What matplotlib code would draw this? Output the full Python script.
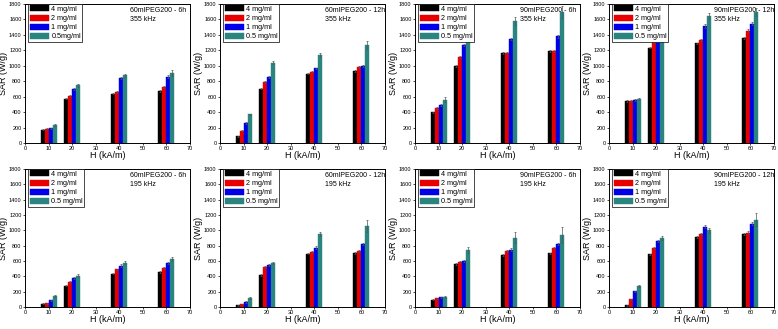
import numpy as np
import matplotlib
matplotlib.use("Agg")
import matplotlib.pyplot as plt

plt.rcParams["font.family"] = ["Liberation Sans", "DejaVu Sans"]

# Field strengths and concentrations
H = [10, 20, 40, 60]
concs = ["4 mg/ml", "2 mg/ml", "1 mg/ml", "0.5 mg/ml"]
colors = ["#000000", "#e80000", "#0000e8", "#2a8580"]

titles = [
    ("60mlPEG200 - 6h", "355 kHz"),
    ("60mlPEG200 - 12h", "355 kHz"),
    ("90mlPEG200 - 6h", "355 kHz"),
    ("90mlPEG200 - 12h", "355 kHz"),
    ("60mlPEG200 - 6h", "195 kHz"),
    ("60mlPEG200 - 12h", "195 kHz"),
    ("90mlPEG200 - 6h", "195 kHz"),
    ("90mlPEG200 - 12h", "195 kHz"),
]
legend_last = ["0.5mg/ml", "0.5 mg/ml", "0.5 mg/ml", "0.5 mg/ml",
               "0.5 mg/ml", "0.5 mg/ml", "0.5 mg/ml", "0.5 mg/ml"]

# SAR values (W/g): per panel, rows = concentration, cols = H
sar_p1 = [[170, 575, 640, 670], [180, 610, 660, 720], [190, 700, 845, 860], [235, 745, 880, 905]]
sar_p2 = [[85, 705, 900, 935], [160, 790, 925, 985], [260, 860, 965, 995], [370, 1040, 1140, 1270]]
sar_p3 = [[395, 995, 1165, 1190], [455, 1110, 1170, 1195], [495, 1265, 1350, 1380], [560, 1460, 1580, 1700]]
sar_p4 = [[545, 1235, 1290, 1355], [545, 1310, 1330, 1455], [555, 1450, 1515, 1545], [575, 1605, 1640, 1695]]
sar_p5 = [[45, 280, 435, 455], [50, 325, 490, 510], [85, 375, 540, 570], [145, 405, 580, 630]]
sar_p6 = [[20, 420, 695, 705], [40, 525, 715, 725], [65, 545, 775, 820], [115, 570, 950, 1055]]
sar_p7 = [[95, 560, 675, 700], [115, 590, 735, 765], [125, 600, 750, 825], [135, 745, 905, 940]]
sar_p8 = [[20, 685, 910, 955], [100, 775, 950, 970], [205, 860, 1045, 1085], [270, 900, 1000, 1140]]

err_p1 = [[8, 10, 10, 12], [8, 12, 10, 12], [8, 12, 15, 20], [12, 15, 20, 40]]
err_p2 = [[5, 10, 10, 10], [8, 12, 10, 12], [10, 12, 12, 12], [10, 20, 30, 50]]
err_p3 = [[8, 10, 10, 10], [10, 12, 10, 12], [12, 15, 15, 15], [30, 40, 50, 80]]
err_p4 = [[8, 10, 10, 12], [8, 15, 12, 15], [10, 20, 20, 20], [12, 30, 40, 50]]
err_p5 = [[5, 10, 10, 10], [5, 12, 12, 15], [8, 12, 15, 15], [12, 20, 20, 25]]
err_p6 = [[5, 10, 10, 10], [5, 12, 12, 12], [8, 12, 15, 15], [10, 15, 30, 80]]
err_p7 = [[5, 10, 10, 10], [8, 12, 12, 12], [8, 12, 15, 15], [15, 40, 70, 100]]
err_p8 = [[5, 10, 12, 12], [8, 12, 15, 15], [10, 15, 20, 20], [15, 20, 30, 80]]

panels = [sar_p1, sar_p2, sar_p3, sar_p4, sar_p5, sar_p6, sar_p7, sar_p8]
errors = [err_p1, err_p2, err_p3, err_p4, err_p5, err_p6, err_p7, err_p8]

fig = plt.figure(figsize=(7.78, 3.29), dpi=100)

lefts = [25, 220, 415, 609]
width = 165 / 778
rows = [(1 - 143 / 329, 139 / 329), (1 - 307 / 329, 138 / 329)]

bw = 1.7
offsets = [-2.55, -0.85, 0.85, 2.55]
Hx = np.array(H, dtype=float)

for i, (vals, errs) in enumerate(zip(panels, errors)):
    r, c = divmod(i, 4)
    bottom, height = rows[r]
    ax = fig.add_axes([lefts[c] / 778, bottom, width, height])
    handles = []
    for k in range(4):
        b = ax.bar(Hx + offsets[k], vals[k], width=bw, color=colors[k],
                   edgecolor=colors[k], linewidth=0.3,
                   yerr=errs[k], ecolor="#555555",
                   error_kw=dict(elinewidth=0.5, capsize=1.0, capthick=0.5))
        handles.append(b)
    ax.set_xlim(0, 70)
    ax.set_ylim(0, 1800)
    ax.set_xticks(range(0, 71, 10))
    ax.set_yticks(range(0, 1801, 200))
    ax.tick_params(labelsize=4, length=1.5, width=0.5, pad=1)
    for s in ax.spines.values():
        s.set_linewidth(0.7)
    ax.set_xlabel("H (kA/m)", fontsize=6.5, labelpad=0)
    ax.set_ylabel("SAR (W/g)", fontsize=6.5, labelpad=0.5)
    labels = concs[:3] + [legend_last[i]]
    leg = ax.legend(handles, labels, loc="upper left", bbox_to_anchor=(0.02, 1.0),
                    fontsize=5.2, frameon=True, fancybox=False, edgecolor="black",
                    framealpha=1, borderpad=0.2, labelspacing=0.22,
                    handlelength=2.6, handleheight=0.9, handletextpad=0.4,
                    borderaxespad=0.0)
    leg.get_frame().set_linewidth(0.5)
    ax.text(0.635, 0.975, titles[i][0] + "\n" + titles[i][1], transform=ax.transAxes,
            fontsize=5, va="top", ha="left", linespacing=1.4)

fig.savefig("out.png", dpi=100)
